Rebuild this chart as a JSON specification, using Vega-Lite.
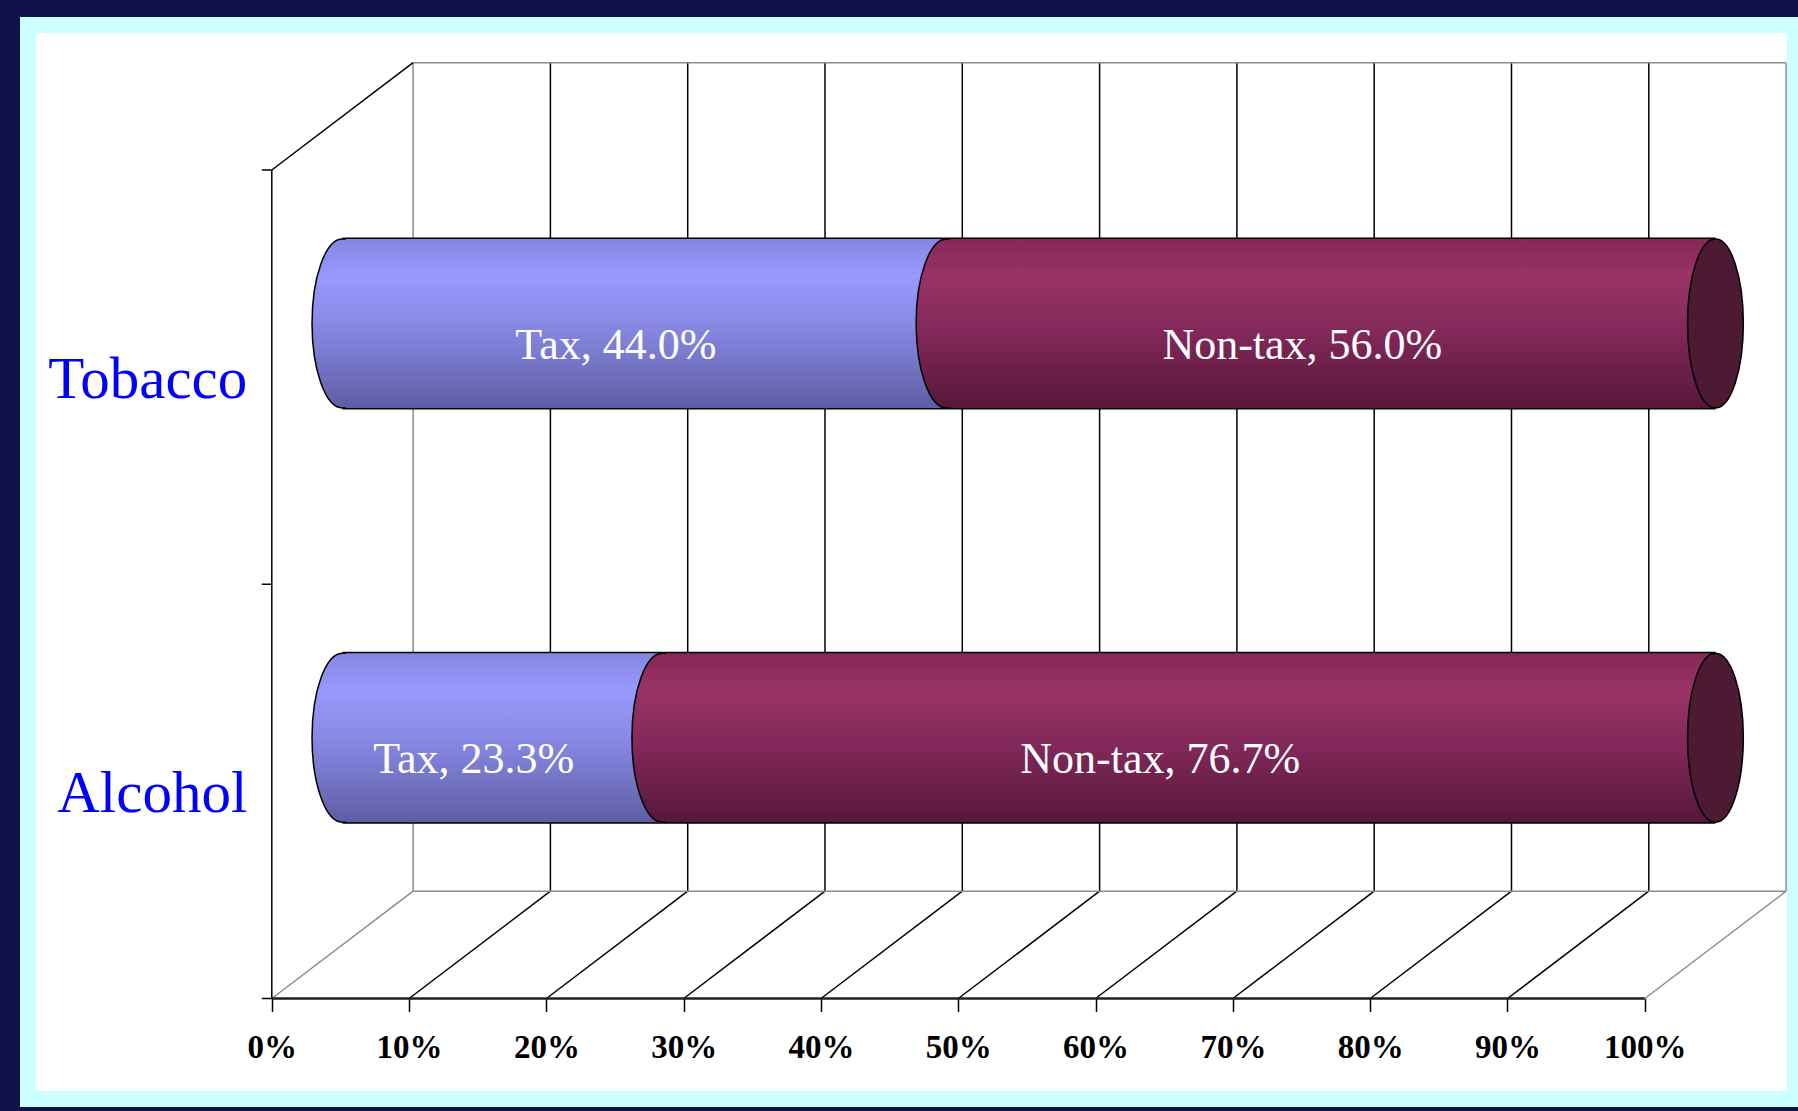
{
  "$schema": "https://vega.github.io/schema/vega-lite/v6.json",
  "width": 1767,
  "height": 1074,
  "autosize": {"type": "none"},
  "padding": {"left": 28, "top": 25, "right": 3, "bottom": 12},
  "background": "#12124a",
  "config": {"view": {"fill": "#ffffff", "stroke": "#ccffff", "strokeWidth": 16}, "axis": {"grid": false}},
  "datasets": {
    "shares": [
      {"cat": "Tobacco", "type": "Tax", "value": 44.0},
      {"cat": "Tobacco", "type": "Non-tax", "value": 56.0},
      {"cat": "Alcohol", "type": "Tax", "value": 23.3},
      {"cat": "Alcohol", "type": "Non-tax", "value": 76.7}
    ],
    "grid": [{"pct": 0}, {"pct": 10}, {"pct": 20}, {"pct": 30}, {"pct": 40}, {"pct": 50}, {"pct": 60}, {"pct": 70}, {"pct": 80}, {"pct": 90}, {"pct": 100}],
    "wallEdge": [{"u": 0}, {"u": 100}],
    "catTicks": [{"u": 0}, {"u": 50}, {"u": 100}],
    "one": [{"k": 1}]
  },
  "resolve": {"scale": {"y": "independent"}},
  "layer": [
    {
      "layer": [
        {
          "data": {"name": "grid"},
          "mark": {"type": "rule", "strokeWidth": 1.5, "xOffset": 141.3, "yOffset": -107.3, "y2Offset": -107.3},
          "encoding": {
            "x": {"field": "pct", "type": "quantitative", "title": null,
              "scale": {"domain": [-17.757, 110.94], "nice": false, "zero": false},
              "axis": {"orient": "bottom", "offset": -100.5, "values": [0, 10, 20, 30, 40, 50, 60, 70, 80, 90, 100],
                "labelExpr": "datum.value + '%'", "domain": false, "ticks": true, "tickSize": 13, "tickWidth": 1.5,
                "tickColor": "#000000", "labelFont": "Liberation Serif", "labelFontSize": 33, "labelFontWeight": "bold",
                "labelColor": "#000000", "labelPadding": 20, "labelFlush": false, "labelOverlap": false, "labelBound": false, "grid": false, "title": null}},
            "y": {"datum": 0, "type": "quantitative", "scale": {"domain": [-12.13, 117.5], "nice": false, "zero": false}, "axis": null},
            "y2": {"datum": 100},
            "stroke": {"condition": {"test": "datum.pct == 0 || datum.pct == 100", "value": "#8c8c8c"}, "value": "#000000"}
          }
        },
        {
          "data": {"name": "grid"},
          "mark": {"type": "rule", "strokeWidth": 1.5, "x2Offset": 141.3, "y2Offset": -107.3},
          "encoding": {
            "x": {"field": "pct", "type": "quantitative", "title": null, "scale": {"domain": [-17.757, 110.94], "nice": false, "zero": false}},
            "x2": {"field": "pct"},
            "y": {"datum": 0, "type": "quantitative", "scale": {"domain": [-12.13, 117.5], "nice": false, "zero": false}, "axis": null},
            "y2": {"datum": 0},
            "stroke": {"condition": {"test": "datum.pct == 0 || datum.pct == 100", "value": "#8c8c8c"}, "value": "#000000"}
          }
        },
        {
          "data": {"name": "wallEdge"},
          "mark": {"type": "rule", "strokeWidth": 1.5, "stroke": "#8c8c8c", "xOffset": 141.3, "x2Offset": 141.3, "yOffset": -107.3},
          "encoding": {
            "x": {"datum": 0, "type": "quantitative", "title": null, "scale": {"domain": [-17.757, 110.94], "nice": false, "zero": false}},
            "x2": {"datum": 100},
            "y": {"field": "u", "type": "quantitative", "scale": {"domain": [-12.13, 117.5], "nice": false, "zero": false}, "axis": null}
          }
        },
        {
          "data": {"name": "one"},
          "mark": {"type": "rule", "strokeWidth": 1.5, "stroke": "#000000"},
          "encoding": {
            "x": {"datum": 0, "type": "quantitative", "title": null, "scale": {"domain": [-17.757, 110.94], "nice": false, "zero": false}},
            "y": {"datum": 0, "type": "quantitative", "scale": {"domain": [-12.13, 117.5], "nice": false, "zero": false}, "axis": null},
            "y2": {"datum": 100}
          }
        },
        {
          "data": {"name": "one"},
          "mark": {"type": "rule", "strokeWidth": 1.5, "stroke": "#000000", "x2Offset": 141.3, "y2Offset": -107.3},
          "encoding": {
            "x": {"datum": 0, "type": "quantitative", "title": null, "scale": {"domain": [-17.757, 110.94], "nice": false, "zero": false}},
            "x2": {"datum": 0},
            "y": {"datum": 100, "type": "quantitative", "scale": {"domain": [-12.13, 117.5], "nice": false, "zero": false}, "axis": null},
            "y2": {"datum": 100}
          }
        },
        {
          "data": {"name": "one"},
          "mark": {"type": "rule", "strokeWidth": 2.5, "stroke": "#202020"},
          "encoding": {
            "x": {"datum": 0, "type": "quantitative", "title": null, "scale": {"domain": [-17.757, 110.94], "nice": false, "zero": false}},
            "x2": {"datum": 100},
            "y": {"datum": 0, "type": "quantitative", "scale": {"domain": [-12.13, 117.5], "nice": false, "zero": false}, "axis": null}
          }
        },
        {
          "data": {"name": "catTicks"},
          "mark": {"type": "rule", "strokeWidth": 1.5, "stroke": "#000000", "x2Offset": -10},
          "encoding": {
            "x": {"datum": 0, "type": "quantitative", "title": null, "scale": {"domain": [-17.757, 110.94], "nice": false, "zero": false}},
            "x2": {"datum": 0},
            "y": {"field": "u", "type": "quantitative", "scale": {"domain": [-12.13, 117.5], "nice": false, "zero": false}, "axis": null}
          }
        }
      ]
    },
    {
      "data": {"name": "shares"},
      "transform": [
        {"stack": "value", "groupby": ["cat"], "sort": [{"field": "type", "order": "descending"}], "as": ["x0", "x1"]},
        {"calculate": "(datum.x0 + datum.x1) / 2", "as": "xm"},
        {"calculate": "datum.type + ', ' + format(datum.value, '.1f') + '%'", "as": "label"}
      ],
      "encoding": {
        "y": {"field": "cat", "type": "nominal", "sort": ["Tobacco", "Alcohol"], "title": null,
          "scale": {"paddingInner": 0, "paddingOuter": 0.2963, "align": 0.5906},
          "axis": {"orient": "left", "offset": -243.8, "domain": false, "ticks": false, "tickSize": 0,
            "labelFont": "Liberation Serif", "labelFontSize": 59, "labelColor": "#0000ff", "labelPadding": 25,
            "labelLimit": 0, "labelOffset": 3, "grid": false, "title": null}}
      },
      "layer": [
        {
          "mark": {"type": "bar", "fill": "#000000", "height": {"band": 0.4152}, "xOffset": 70.65, "x2Offset": 70.65, "yOffset": -53.65, "y2Offset": -53.65},
          "encoding": {
            "x": {"aggregate": "min", "field": "x0", "type": "quantitative", "title": null, "scale": {"domain": [-17.757, 110.94], "nice": false, "zero": false}},
            "x2": {"aggregate": "max", "field": "x1"}
          }
        },
        {
          "transform": [{"filter": "datum.type == 'Tax'"}],
          "mark": {"type": "bar", "height": {"band": 0.408}, "xOffset": 70.65, "x2Offset": 70.65, "yOffset": -53.65, "y2Offset": -53.65,
            "fill": {"gradient": "linear", "x1": 0, "y1": 0, "x2": 0, "y2": 1, "stops": [
              {"offset": 0, "color": "#8585e2"}, {"offset": 0.22, "color": "#9999ff"}, {"offset": 0.55, "color": "#8585e0"}, {"offset": 1, "color": "#5e5ea4"}]}},
          "encoding": {
            "x": {"field": "x0", "type": "quantitative", "title": null, "scale": {"domain": [-17.757, 110.94], "nice": false, "zero": false}},
            "x2": {"field": "x1"}
          }
        },
        {
          "transform": [{"filter": "datum.type == 'Tax'"}],
          "mark": {"type": "point", "shape": "M0.04,-1 L0,-1 A0.36,1 0 0 0 0,1 L0.04,1", "size": 28561, "filled": true, "opacity": 1,
            "stroke": "#000000", "strokeWidth": 1.5, "xOffset": 70.65, "yOffset": -53.65,
            "fill": {"gradient": "linear", "x1": 0, "y1": 0, "x2": 0, "y2": 1, "stops": [
              {"offset": 0, "color": "#8585e2"}, {"offset": 0.22, "color": "#9999ff"}, {"offset": 0.55, "color": "#8585e0"}, {"offset": 1, "color": "#5e5ea4"}]}},
          "encoding": {
            "x": {"field": "x0", "type": "quantitative", "title": null, "scale": {"domain": [-17.757, 110.94], "nice": false, "zero": false}}
          }
        },
        {
          "transform": [{"filter": "datum.type == 'Non-tax'"}],
          "mark": {"type": "bar", "height": {"band": 0.408}, "xOffset": 70.65, "x2Offset": 70.65, "yOffset": -53.65, "y2Offset": -53.65,
            "fill": {"gradient": "linear", "x1": 0, "y1": 0, "x2": 0, "y2": 1, "stops": [
              {"offset": 0, "color": "#852858"}, {"offset": 0.22, "color": "#993366"}, {"offset": 0.55, "color": "#82285a"}, {"offset": 1, "color": "#561839"}]}},
          "encoding": {
            "x": {"field": "x0", "type": "quantitative", "title": null, "scale": {"domain": [-17.757, 110.94], "nice": false, "zero": false}},
            "x2": {"field": "x1"}
          }
        },
        {
          "transform": [{"filter": "datum.type == 'Non-tax'"}],
          "mark": {"type": "point", "shape": "M0.04,-1 L0,-1 A0.36,1 0 0 0 0,1 L0.04,1", "size": 28561, "filled": true, "opacity": 1,
            "stroke": "#000000", "strokeWidth": 1.5, "xOffset": 70.65, "yOffset": -53.65,
            "fill": {"gradient": "linear", "x1": 0, "y1": 0, "x2": 0, "y2": 1, "stops": [
              {"offset": 0, "color": "#852858"}, {"offset": 0.22, "color": "#993366"}, {"offset": 0.55, "color": "#82285a"}, {"offset": 1, "color": "#561839"}]}},
          "encoding": {
            "x": {"field": "x0", "type": "quantitative", "title": null, "scale": {"domain": [-17.757, 110.94], "nice": false, "zero": false}}
          }
        },
        {
          "transform": [{"filter": "datum.type == 'Non-tax'"}],
          "mark": {"type": "point", "shape": "M0,-1 A0.33,1 0 0 0 0,1 A0.33,1 0 0 0 0,-1 Z", "size": 28561, "filled": true, "opacity": 1,
            "fill": "#4d1a33", "stroke": "#000000", "strokeWidth": 1.5, "xOffset": 70.65, "yOffset": -53.65},
          "encoding": {
            "x": {"field": "x1", "type": "quantitative", "title": null, "scale": {"domain": [-17.757, 110.94], "nice": false, "zero": false}}
          }
        },
        {
          "mark": {"type": "text", "font": "Liberation Serif", "fontSize": 44, "fill": "#ffffff", "dx": 42, "dy": -18, "baseline": "alphabetic", "align": "center"},
          "encoding": {
            "x": {"field": "xm", "type": "quantitative", "title": null, "scale": {"domain": [-17.757, 110.94], "nice": false, "zero": false}},
            "text": {"field": "label"}
          }
        }
      ]
    }
  ]
}
